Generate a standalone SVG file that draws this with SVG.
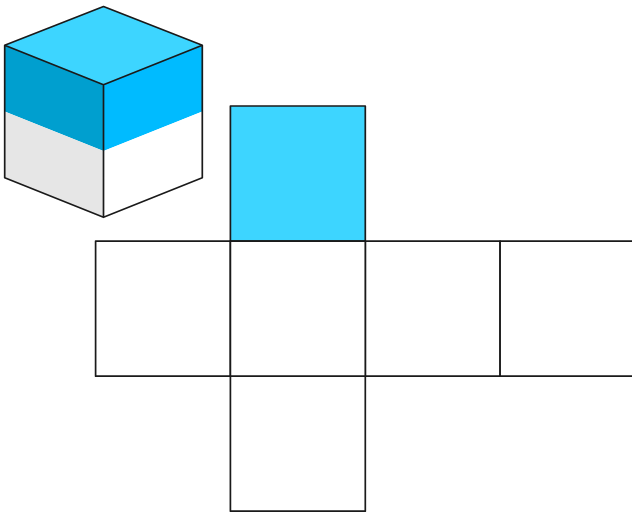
<svg xmlns="http://www.w3.org/2000/svg" width="632" height="512" viewBox="0 0 632 512">
<style>
.e{stroke:#1a1a1a;stroke-width:1.7;stroke-linejoin:round;fill:none}
.n{fill:#fff}
.t{fill:#3dd5ff}
</style>
<rect width="632" height="512" fill="#fff"/>
<g id="cube">
<polygon points="103.5,6.5 202.3,45.2 103.5,84.8 4.7,45.2" class="t"/>
<polygon points="4.7,45.2 103.5,84.8 103.5,151 4.7,111.6" fill="#009fcf"/>
<polygon points="4.7,111.6 103.5,151 103.5,217.3 4.7,177.7" fill="#e6e6e6"/>
<polygon points="103.5,84.8 202.3,45.2 202.3,111.6 103.5,151" fill="#00bbff"/>
<polygon points="103.5,151 202.3,111.6 202.3,177.7 103.5,217.3" fill="#fff"/>
<path class="e" d="M4.7,45.2 L103.5,6.5 L202.3,45.2 L202.3,177.7 L103.5,217.3 L4.7,177.7 Z M4.7,45.2 L103.5,84.8 L202.3,45.2 M103.5,84.8 V217.3"/>
</g>
<g id="face-top"><rect x="230.4" y="106" width="134.9" height="135.1" class="t"/><rect x="230.4" y="106" width="134.9" height="135.1" class="e"/></g>
<g id="face-left"><rect x="95.6" y="241.1" width="134.8" height="135.1" class="e n"/></g>
<g id="face-right"><rect x="365.3" y="241.1" width="134.8" height="135.1" class="e n"/></g>
<g id="face-back"><rect x="500.1" y="241.1" width="135" height="135.1" class="e n"/></g>
<g id="face-bottom"><rect x="230.4" y="376.2" width="134.9" height="135" class="e n"/></g>
<g id="face-center"><rect x="230.4" y="241.1" width="134.9" height="135.1" class="e n"/></g>
</svg>
